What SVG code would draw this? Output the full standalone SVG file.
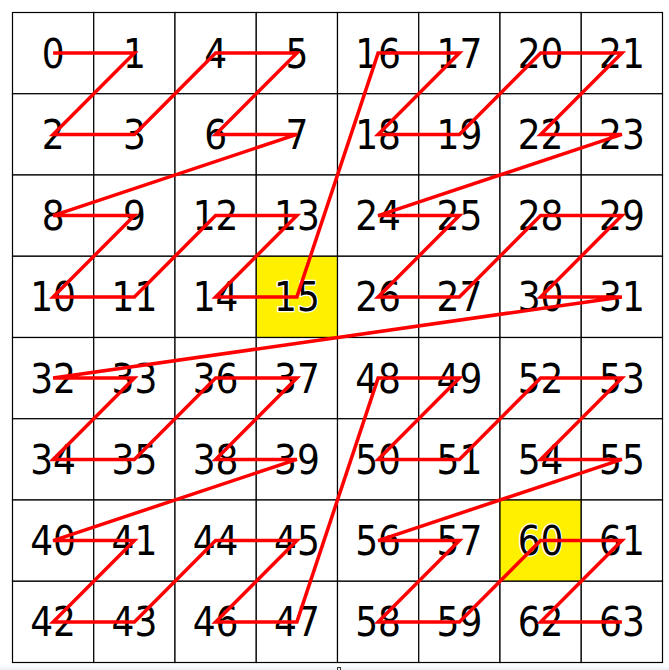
<svg xmlns="http://www.w3.org/2000/svg" width="669" height="670" viewBox="0 0 669 670">
<style>
.cell{fill:#ffffff;stroke:#000000;stroke-width:1.2}
.hl{fill:#fff000;stroke:#000000;stroke-width:1.2}
.lbl{font-family:"DejaVu Sans Condensed","DejaVu Sans",sans-serif;font-stretch:condensed;font-size:40px;text-anchor:middle;fill:#000000;stroke:#ffffff;stroke-width:2.5;paint-order:stroke;stroke-linejoin:round}
.curve{fill:none;stroke:#ff0000;stroke-width:3.5}
</style>
<rect x="0" y="0" width="669" height="670" fill="#ffffff"/>
<rect x="0" y="667.5" width="669" height="2.5" fill="#eef3f8"/>
<rect x="337.5" y="667.5" width="3" height="3" fill="none" stroke="#333333" stroke-width="1"/>
<g id="n0"><rect class="cell" x="12.5" y="12.5" width="81.25" height="81.25"/><text class="lbl" x="53.1" y="67.6">0</text></g>
<g id="n1"><rect class="cell" x="93.75" y="12.5" width="81.25" height="81.25"/><text class="lbl" x="134.4" y="67.6">1</text></g>
<g id="n2"><rect class="cell" x="12.5" y="93.75" width="81.25" height="81.25"/><text class="lbl" x="53.1" y="148.9">2</text></g>
<g id="n3"><rect class="cell" x="93.75" y="93.75" width="81.25" height="81.25"/><text class="lbl" x="134.4" y="148.9">3</text></g>
<g id="n4"><rect class="cell" x="175" y="12.5" width="81.25" height="81.25"/><text class="lbl" x="215.6" y="67.6">4</text></g>
<g id="n5"><rect class="cell" x="256.25" y="12.5" width="81.25" height="81.25"/><text class="lbl" x="296.9" y="67.6">5</text></g>
<g id="n6"><rect class="cell" x="175" y="93.75" width="81.25" height="81.25"/><text class="lbl" x="215.6" y="148.9">6</text></g>
<g id="n7"><rect class="cell" x="256.25" y="93.75" width="81.25" height="81.25"/><text class="lbl" x="296.9" y="148.9">7</text></g>
<g id="n8"><rect class="cell" x="12.5" y="175" width="81.25" height="81.25"/><text class="lbl" x="53.1" y="230.1">8</text></g>
<g id="n9"><rect class="cell" x="93.75" y="175" width="81.25" height="81.25"/><text class="lbl" x="134.4" y="230.1">9</text></g>
<g id="n10"><rect class="cell" x="12.5" y="256.25" width="81.25" height="81.25"/><text class="lbl" x="53.1" y="311.4">10</text></g>
<g id="n11"><rect class="cell" x="93.75" y="256.25" width="81.25" height="81.25"/><text class="lbl" x="134.4" y="311.4">11</text></g>
<g id="n12"><rect class="cell" x="175" y="175" width="81.25" height="81.25"/><text class="lbl" x="215.6" y="230.1">12</text></g>
<g id="n13"><rect class="cell" x="256.25" y="175" width="81.25" height="81.25"/><text class="lbl" x="296.9" y="230.1">13</text></g>
<g id="n14"><rect class="cell" x="175" y="256.25" width="81.25" height="81.25"/><text class="lbl" x="215.6" y="311.4">14</text></g>
<g id="n15"><rect class="hl" x="256.25" y="256.25" width="81.25" height="81.25"/><text class="lbl" x="296.9" y="311.4">15</text></g>
<g id="n16"><rect class="cell" x="337.5" y="12.5" width="81.25" height="81.25"/><text class="lbl" x="378.1" y="67.6">16</text></g>
<g id="n17"><rect class="cell" x="418.75" y="12.5" width="81.25" height="81.25"/><text class="lbl" x="459.4" y="67.6">17</text></g>
<g id="n18"><rect class="cell" x="337.5" y="93.75" width="81.25" height="81.25"/><text class="lbl" x="378.1" y="148.9">18</text></g>
<g id="n19"><rect class="cell" x="418.75" y="93.75" width="81.25" height="81.25"/><text class="lbl" x="459.4" y="148.9">19</text></g>
<g id="n20"><rect class="cell" x="500" y="12.5" width="81.25" height="81.25"/><text class="lbl" x="540.6" y="67.6">20</text></g>
<g id="n21"><rect class="cell" x="581.25" y="12.5" width="81.25" height="81.25"/><text class="lbl" x="621.9" y="67.6">21</text></g>
<g id="n22"><rect class="cell" x="500" y="93.75" width="81.25" height="81.25"/><text class="lbl" x="540.6" y="148.9">22</text></g>
<g id="n23"><rect class="cell" x="581.25" y="93.75" width="81.25" height="81.25"/><text class="lbl" x="621.9" y="148.9">23</text></g>
<g id="n24"><rect class="cell" x="337.5" y="175" width="81.25" height="81.25"/><text class="lbl" x="378.1" y="230.1">24</text></g>
<g id="n25"><rect class="cell" x="418.75" y="175" width="81.25" height="81.25"/><text class="lbl" x="459.4" y="230.1">25</text></g>
<g id="n26"><rect class="cell" x="337.5" y="256.25" width="81.25" height="81.25"/><text class="lbl" x="378.1" y="311.4">26</text></g>
<g id="n27"><rect class="cell" x="418.75" y="256.25" width="81.25" height="81.25"/><text class="lbl" x="459.4" y="311.4">27</text></g>
<g id="n28"><rect class="cell" x="500" y="175" width="81.25" height="81.25"/><text class="lbl" x="540.6" y="230.1">28</text></g>
<g id="n29"><rect class="cell" x="581.25" y="175" width="81.25" height="81.25"/><text class="lbl" x="621.9" y="230.1">29</text></g>
<g id="n30"><rect class="cell" x="500" y="256.25" width="81.25" height="81.25"/><text class="lbl" x="540.6" y="311.4">30</text></g>
<g id="n31"><rect class="cell" x="581.25" y="256.25" width="81.25" height="81.25"/><text class="lbl" x="621.9" y="311.4">31</text></g>
<g id="n32"><rect class="cell" x="12.5" y="337.5" width="81.25" height="81.25"/><text class="lbl" x="53.1" y="392.6">32</text></g>
<g id="n33"><rect class="cell" x="93.75" y="337.5" width="81.25" height="81.25"/><text class="lbl" x="134.4" y="392.6">33</text></g>
<g id="n34"><rect class="cell" x="12.5" y="418.75" width="81.25" height="81.25"/><text class="lbl" x="53.1" y="473.9">34</text></g>
<g id="n35"><rect class="cell" x="93.75" y="418.75" width="81.25" height="81.25"/><text class="lbl" x="134.4" y="473.9">35</text></g>
<g id="n36"><rect class="cell" x="175" y="337.5" width="81.25" height="81.25"/><text class="lbl" x="215.6" y="392.6">36</text></g>
<g id="n37"><rect class="cell" x="256.25" y="337.5" width="81.25" height="81.25"/><text class="lbl" x="296.9" y="392.6">37</text></g>
<g id="n38"><rect class="cell" x="175" y="418.75" width="81.25" height="81.25"/><text class="lbl" x="215.6" y="473.9">38</text></g>
<g id="n39"><rect class="cell" x="256.25" y="418.75" width="81.25" height="81.25"/><text class="lbl" x="296.9" y="473.9">39</text></g>
<g id="n40"><rect class="cell" x="12.5" y="500" width="81.25" height="81.25"/><text class="lbl" x="53.1" y="555.1">40</text></g>
<g id="n41"><rect class="cell" x="93.75" y="500" width="81.25" height="81.25"/><text class="lbl" x="134.4" y="555.1">41</text></g>
<g id="n42"><rect class="cell" x="12.5" y="581.25" width="81.25" height="81.25"/><text class="lbl" x="53.1" y="636.4">42</text></g>
<g id="n43"><rect class="cell" x="93.75" y="581.25" width="81.25" height="81.25"/><text class="lbl" x="134.4" y="636.4">43</text></g>
<g id="n44"><rect class="cell" x="175" y="500" width="81.25" height="81.25"/><text class="lbl" x="215.6" y="555.1">44</text></g>
<g id="n45"><rect class="cell" x="256.25" y="500" width="81.25" height="81.25"/><text class="lbl" x="296.9" y="555.1">45</text></g>
<g id="n46"><rect class="cell" x="175" y="581.25" width="81.25" height="81.25"/><text class="lbl" x="215.6" y="636.4">46</text></g>
<g id="n47"><rect class="cell" x="256.25" y="581.25" width="81.25" height="81.25"/><text class="lbl" x="296.9" y="636.4">47</text></g>
<g id="n48"><rect class="cell" x="337.5" y="337.5" width="81.25" height="81.25"/><text class="lbl" x="378.1" y="392.6">48</text></g>
<g id="n49"><rect class="cell" x="418.75" y="337.5" width="81.25" height="81.25"/><text class="lbl" x="459.4" y="392.6">49</text></g>
<g id="n50"><rect class="cell" x="337.5" y="418.75" width="81.25" height="81.25"/><text class="lbl" x="378.1" y="473.9">50</text></g>
<g id="n51"><rect class="cell" x="418.75" y="418.75" width="81.25" height="81.25"/><text class="lbl" x="459.4" y="473.9">51</text></g>
<g id="n52"><rect class="cell" x="500" y="337.5" width="81.25" height="81.25"/><text class="lbl" x="540.6" y="392.6">52</text></g>
<g id="n53"><rect class="cell" x="581.25" y="337.5" width="81.25" height="81.25"/><text class="lbl" x="621.9" y="392.6">53</text></g>
<g id="n54"><rect class="cell" x="500" y="418.75" width="81.25" height="81.25"/><text class="lbl" x="540.6" y="473.9">54</text></g>
<g id="n55"><rect class="cell" x="581.25" y="418.75" width="81.25" height="81.25"/><text class="lbl" x="621.9" y="473.9">55</text></g>
<g id="n56"><rect class="cell" x="337.5" y="500" width="81.25" height="81.25"/><text class="lbl" x="378.1" y="555.1">56</text></g>
<g id="n57"><rect class="cell" x="418.75" y="500" width="81.25" height="81.25"/><text class="lbl" x="459.4" y="555.1">57</text></g>
<g id="n58"><rect class="cell" x="337.5" y="581.25" width="81.25" height="81.25"/><text class="lbl" x="378.1" y="636.4">58</text></g>
<g id="n59"><rect class="cell" x="418.75" y="581.25" width="81.25" height="81.25"/><text class="lbl" x="459.4" y="636.4">59</text></g>
<g id="n60"><rect class="hl" x="500" y="500" width="81.25" height="81.25"/><text class="lbl" x="540.6" y="555.1">60</text></g>
<g id="n61"><rect class="cell" x="581.25" y="500" width="81.25" height="81.25"/><text class="lbl" x="621.9" y="555.1">61</text></g>
<g id="n62"><rect class="cell" x="500" y="581.25" width="81.25" height="81.25"/><text class="lbl" x="540.6" y="636.4">62</text></g>
<g id="n63"><rect class="cell" x="581.25" y="581.25" width="81.25" height="81.25"/><text class="lbl" x="621.9" y="636.4">63</text></g>
<g id="connectors">
<polyline class="curve" points="53.1,53.1 134.4,53.1 53.1,134.4 134.4,134.4 215.6,53.1 296.9,53.1 215.6,134.4 296.9,134.4 53.1,215.6 134.4,215.6 53.1,296.9 134.4,296.9 215.6,215.6 296.9,215.6 215.6,296.9 296.9,296.9 378.1,53.1 459.4,53.1 378.1,134.4 459.4,134.4 540.6,53.1 621.9,53.1 540.6,134.4 621.9,134.4 378.1,215.6 459.4,215.6 378.1,296.9 459.4,296.9 540.6,215.6 621.9,215.6 540.6,296.9 621.9,296.9 53.1,378.1 134.4,378.1 53.1,459.4 134.4,459.4 215.6,378.1 296.9,378.1 215.6,459.4 296.9,459.4 53.1,540.6 134.4,540.6 53.1,621.9 134.4,621.9 215.6,540.6 296.9,540.6 215.6,621.9 296.9,621.9 378.1,378.1 459.4,378.1 378.1,459.4 459.4,459.4 540.6,378.1 621.9,378.1 540.6,459.4 621.9,459.4 378.1,540.6 459.4,540.6 378.1,621.9 459.4,621.9 540.6,540.6 621.9,540.6 540.6,621.9 621.9,621.9"/>
</g>
</svg>
